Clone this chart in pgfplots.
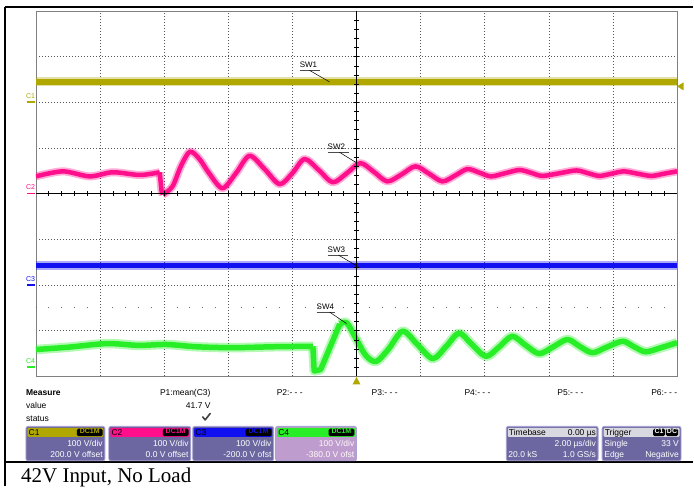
\documentclass[border=0pt]{standalone}
\usepackage{pgfplots}
\usepackage{pgfplotstable}
\pgfplotsset{compat=1.18}
\usepackage{fontspec}
\setmainfont{Liberation Sans}
\newfontfamily\capfont{Liberation Serif}
\definecolor{cone}{HTML}{B0A800}
\definecolor{ctwo}{HTML}{FF0F8C}
\definecolor{cthree}{HTML}{1010F0}
\definecolor{cfour}{HTML}{28EE28}
\definecolor{boxbody}{HTML}{6C67A0}
\definecolor{boxedge}{HTML}{A8A2D4}
\definecolor{boxsel}{HTML}{BE9DCE}
\definecolor{hdrgrey}{HTML}{D8D8E0}
\definecolor{gridc}{HTML}{555555}
\newcommand{\scf}{\fontsize{8.5}{9}\selectfont}
\newcommand{\chbox}[8]{%
 \filldraw[fill=#7, draw=boxedge, line width=0.8pt, rounded corners=2pt] (#1,427) rectangle (#2,461.5);
 \fill[#3, rounded corners=1pt] ({#1+1.5},428.5) rectangle ({#2-1.5},437.5);
 \node[anchor=base west, inner sep=0, font=\scf] at ({#1+2.5},436) {#4};
 \fill[black, rounded corners=1.5pt] ({#2-28},429.3) rectangle ({#2-2.2},436.8);
 \node[anchor=base, inner sep=0, text=#3, font=\fontsize{7}{7}\selectfont\bfseries] at ({#2-15.1},434.6) {DC1M};
 \node[anchor=base east, inner sep=0, text=#8, font=\scf] at ({#2-2},447) {#5};
 \node[anchor=base east, inner sep=0, text=#8, font=\scf] at ({#2-2},458) {#6};
}
% ---- data (x in divisions of 2 us, y in divisions of 100 V) ----
\pgfplotstableread{
x y
0 6.45
10 6.45
}\cOne
\pgfplotstableread{
x y
0 2.43
10 2.43
}\cThree
\pgfplotstableread{
x y
0 4.38
0.42 4.49
0.84 4.38
1.20 4.47
1.62 4.41
1.93 4.47
}\cTwoA
\pgfplotstableread{
x y
1.93 4.47
1.96 4.05
1.98 3.98
}\cTwoB
\pgfplotstableread{
x y
1.98 3.98
2.13 4.16
2.26 4.6
2.40 4.92
2.55 4.76
2.70 4.45
2.91 4.12
3.12 4.45
3.33 4.83
3.56 4.55
3.80 4.21
4.0 4.45
4.19 4.76
4.41 4.52
4.63 4.25
4.85 4.45
5.06 4.67
5.27 4.48
5.48 4.27
5.70 4.42
5.92 4.60
6.13 4.44
6.34 4.27
6.54 4.40
6.73 4.54
6.92 4.46
7.10 4.38
7.32 4.45
7.54 4.52
7.72 4.46
7.90 4.39
8.17 4.45
8.43 4.51
8.61 4.45
8.79 4.39
8.98 4.44
9.17 4.49
9.38 4.44
9.60 4.39
9.80 4.44
10 4.49
}\cTwoC
\pgfplotstableread{
x y
0 0.59
0.5 0.64
1.11 0.72
1.6 0.68
2.04 0.70
2.5 0.65
3.07 0.63
3.7 0.65
4.32 0.66
}\cFourA
\pgfplotstableread{
x y
4.32 0.66
4.34 0.12
4.44 0.15
4.74 1.15
}\cFourB
\pgfplotstableread{
x y
4.74 1.15
4.85 1.17
5.0 0.81
5.15 0.45
5.31 0.33
5.5 0.6
5.72 0.99
5.95 0.7
6.19 0.39
6.4 0.66
6.60 0.95
6.8 0.7
7.02 0.44
7.22 0.64
7.43 0.88
7.64 0.68
7.85 0.50
8.07 0.65
8.29 0.81
8.48 0.66
8.68 0.52
8.9 0.64
9.15 0.77
9.33 0.65
9.51 0.54
9.75 0.63
10 0.74
}\cFourC
\begin{document}
\begin{tikzpicture}
\begin{scope}[x=1pt,y=-1pt]
\path[use as bounding box, fill=white] (0,0) rectangle (694,487);
\end{scope}
\begin{axis}[at={(36pt,-377pt)}, anchor=south west, scale only axis,
  width=642pt, height=366pt, xmin=0, xmax=10, ymin=0, ymax=8,
  xtick={0,...,10}, ytick={0,...,8}, xticklabels={}, yticklabels={},
  major tick length=0pt, grid=major,
  grid style={gridc, line width=0.6pt, dash pattern=on 1pt off 2pt},
  axis line style={draw=black!50, line width=0.8pt},
  halo/.style={line width=#1, opacity=0.35, line join=round},
  core/.style={line width=#1, line join=round}]
% trigger-level dotted row
\draw[black!60, line width=0.9pt, dash pattern=on 0.9pt off 11.94pt, dash phase=0.45pt] (axis cs:0,1.5) -- (axis cs:10,1.5);
% C1
\addplot[cone, halo=9pt] table {\cOne};
\addplot[cone, core=5.5pt] table {\cOne};
% C3
\addplot[cthree, halo=8.5pt] table {\cThree};
\addplot[cthree, core=5pt] table {\cThree};
% C2
\addplot[ctwo, halo=8pt, smooth] table {\cTwoA};
\addplot[ctwo, halo=8pt, sharp plot] table {\cTwoB};
\addplot[ctwo, halo=8pt, smooth] table {\cTwoC};
\addplot[ctwo, core=4.5pt, smooth] table {\cTwoA};
\addplot[ctwo, core=4.5pt, sharp plot] table {\cTwoB};
\addplot[ctwo, core=4.5pt, smooth] table {\cTwoC};
% C4
\addplot[cfour, halo=9.5pt, smooth] table {\cFourA};
\addplot[cfour, halo=9.5pt, sharp plot] table {\cFourB};
\addplot[cfour, halo=9.5pt, smooth] table {\cFourC};
\addplot[cfour, core=5.5pt, smooth] table {\cFourA};
\addplot[cfour, core=5.5pt, sharp plot] table {\cFourB};
\addplot[cfour, core=5.5pt, smooth] table {\cFourC};
\end{axis}
\begin{scope}[x=1pt,y=-1pt]
% outer frame
\draw[line width=2pt] (5,7) -- (694,7);
\draw[line width=1.6pt] (5,7) -- (5,487);
\draw[line width=2pt] (5,462.5) -- (694,462.5);
% centre cross
\draw[black, line width=0.8pt] (357,11) -- (357,377);
\draw[black, line width=0.8pt] (36,194) -- (678,194);
\foreach \k in {1,...,39} {\draw[black, line width=0.6pt] (354.5,{11+\k*9.15}) -- (359.5,{11+\k*9.15});}
\foreach \k in {1,...,49} {\draw[black, line width=0.6pt] ({36+\k*12.84},191.5) -- ({36+\k*12.84},196.5);}
% trigger markers
\fill[cone] (357,377.5) -- (353,385) -- (361,385) -- cycle;
\fill[cone] (678,86.5) -- (684.5,82.5) -- (684.5,90.5) -- cycle;
% channel ground markers
\node[anchor=base west, inner sep=0, text=cone, font=\fontsize{7}{7}\selectfont] at (26,99) {C1};
\draw[cone, line width=1.5pt] (27,102) -- (35,102);
\node[anchor=base west, inner sep=0, text=ctwo, font=\fontsize{7}{7}\selectfont] at (26,190) {C2};
\draw[ctwo, line width=1.5pt] (27,194) -- (35,194);
\node[anchor=base west, inner sep=0, text=cthree, font=\fontsize{7}{7}\selectfont] at (26,282) {C3};
\draw[cthree, line width=1.5pt] (27,285.5) -- (35,285.5);
\node[anchor=base west, inner sep=0, text=cfour, font=\fontsize{7}{7}\selectfont] at (26,364) {C4};
\draw[cfour, line width=1.5pt] (27,367.5) -- (35,367.5);
% SW labels
\node[anchor=base west, inner sep=0, font=\fontsize{8}{8}\selectfont] at (300,68) {SW1};
\draw[black!70, line width=0.8pt] (300,70.5) -- (320,70.5);
\draw[black, line width=0.5pt] (310,70.5) -- (330,82);
\node[anchor=base west, inner sep=0, font=\fontsize{8}{8}\selectfont] at (328,150) {SW2};
\draw[black!70, line width=0.8pt] (328,152.5) -- (349,152.5);
\draw[black, line width=0.5pt] (340,152.5) -- (357,163);
\node[anchor=base west, inner sep=0, font=\fontsize{8}{8}\selectfont] at (328,253) {SW3};
\draw[black!70, line width=0.8pt] (328,255.5) -- (348,255.5);
\draw[black, line width=0.5pt] (339,255.5) -- (357,266);
\node[anchor=base west, inner sep=0, font=\fontsize{8}{8}\selectfont] at (317,310) {SW4};
\draw[black!70, line width=0.8pt] (317,312.5) -- (335,312.5);
\draw[black, line width=0.5pt] (330,312.5) -- (347,324);
% measure panel
\node[anchor=base west, inner sep=0, font=\scf\bfseries] at (26,396) {Measure};
\node[anchor=base west, inner sep=0, font=\scf] at (26,409) {value};
\node[anchor=base west, inner sep=0, font=\scf] at (26,422) {status};
\node[anchor=base east, inner sep=0, font=\scf] at (211,396) {P1:mean(C3)};
\node[anchor=base east, inner sep=0, font=\scf] at (211,409) {41.7 V};
\draw[black!75, line width=1.6pt, line cap=round, line join=round] (203,417.5) -- (205.5,420.5) -- (210.5,414);
\node[anchor=base west, inner sep=0, font=\scf] at (277,396) {P2:- - -};
\node[anchor=base west, inner sep=0, font=\scf] at (372,396) {P3:- - -};
\node[anchor=base west, inner sep=0, font=\scf] at (465,396) {P4:- - -};
\node[anchor=base west, inner sep=0, font=\scf] at (558,396) {P5:- - -};
\node[anchor=base west, inner sep=0, font=\scf] at (652,396) {P6:- - -};
% channel boxes
\chbox{26}{105}{cone}{C1}{100 V/div}{200.0 V offset}{boxbody}{white}
\chbox{109}{191}{ctwo}{C2}{100 V/div}{0.0 V offset}{boxbody}{white}
\chbox{193}{274}{cthree}{C3}{100 V/div}{-200.0 V ofst}{boxbody}{white}
\chbox{276}{357}{cfour}{C4}{100 V/div}{-380.0 V ofst}{boxsel}{white!92!pink}
% timebase box
\filldraw[fill=boxbody, draw=boxedge, line width=0.8pt, rounded corners=2pt] (507,427) rectangle (599,461.5);
\fill[hdrgrey, rounded corners=1pt] (508.5,428.5) rectangle (597.5,437.5);
\node[anchor=base west, inner sep=0, font=\scf] at (509.5,436) {Timebase};
\node[anchor=base east, inner sep=0, font=\scf] at (597,436) {0.00 µs};
\node[anchor=base east, inner sep=0, font=\scf, text=white] at (597,447) {2.00 µs/div};
\node[anchor=base west, inner sep=0, font=\scf, text=white] at (509,458) {20.0 kS};
\node[anchor=base east, inner sep=0, font=\scf, text=white] at (597,458) {1.0 GS/s};
% trigger box
\filldraw[fill=boxbody, draw=boxedge, line width=0.8pt, rounded corners=2pt] (603,427) rectangle (682,461.5);
\fill[hdrgrey, rounded corners=1pt] (604.5,428.5) rectangle (680.5,437.5);
\node[anchor=base west, inner sep=0, font=\scf] at (605.5,436) {Trigger};
\fill[black, rounded corners=1.5pt] (654,429.3) rectangle (666,436.8);
\node[anchor=base, inner sep=0, text=white, font=\fontsize{7}{7}\selectfont\bfseries] at (660,434.6) {C1};
\fill[black, rounded corners=1.5pt] (667,429.3) rectangle (679,436.8);
\node[anchor=base, inner sep=0, text=white, font=\fontsize{7}{7}\selectfont\bfseries] at (673,434.6) {DC};
\node[anchor=base west, inner sep=0, font=\scf, text=white] at (605,447) {Single};
\node[anchor=base east, inner sep=0, font=\scf, text=white] at (680,447) {33 V};
\node[anchor=base west, inner sep=0, font=\scf, text=white] at (605,458) {Edge};
\node[anchor=base east, inner sep=0, font=\scf, text=white] at (680,458) {Negative};
% caption
\node[anchor=base west, inner sep=0, font=\capfont\fontsize{21}{21}\selectfont] at (21,483) {42V Input, No Load};
\end{scope}
\end{tikzpicture}
\end{document}
